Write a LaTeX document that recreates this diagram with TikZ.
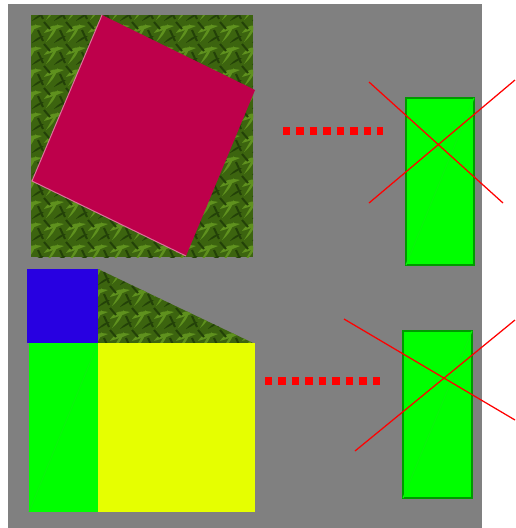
\documentclass[tikz,border=0pt]{standalone}
\usepackage{tikz}
\usetikzlibrary{calc}
\definecolor{bgGray}{RGB}{128,128,128}
\definecolor{squarePink}{RGB}{190,0,75}
\definecolor{squareBlue}{RGB}{40,0,225}
\definecolor{rectGreen}{RGB}{0,255,0}
\definecolor{rectYellow}{RGB}{230,255,0}
\definecolor{leafDark}{RGB}{60,100,15}
\definecolor{leafMid}{RGB}{35,65,8}
\definecolor{leafLight}{RGB}{95,145,30}
\tikzset{
  leafbase/.style={fill=leafDark},
  leafblade/.style={fill=leafLight},
  leafvein/.style={draw=leafMid, line width=0.04cm},
  greenbox/.style={fill=rectGreen, draw=green!60!black, line width=0.03cm},
  reddots/.style={draw=red, line width=0.15cm, dash pattern=on 0.15cm off 0.12cm},
  crossline/.style={draw=red, line width=0.025cm},
  faintdiag/.style={draw=green!92!gray, line width=0.02cm}
}
% tiled leaf texture over the current clip
\newcommand{\leaftiles}[4]{%
  \foreach \tx in {#1,...,#2}{
    \foreach \ty in {#3,...,#4}{
      \begin{scope}[shift={(\tx*22,\ty*22)}]
        \fill[leafblade] (0,11) .. controls (5,3) and (12,2) .. (20,4)
          .. controls (13,7) and (7,9) .. cycle;
        \fill[leafblade] (2,20) .. controls (6,14) and (8,8) .. (14,2)
          .. controls (12,10) and (8,15) .. cycle;
        \fill[leafMid] (10,21) .. controls (14,16) and (18,14) .. (22,14)
          .. controls (18,17) and (14,19) .. cycle;
        \draw[leafvein] (0,0) -- (6,7);
        \draw[leafvein] (16,8) -- (21,19);
      \end{scope}
    }
  }%
}
\begin{document}
\begin{tikzpicture}[x=0.02cm, y=-0.02cm]
\useasboundingbox (0,0) rectangle (515,528);
% background
\fill[bgGray] (8,4) rectangle (482,528);

% top figure: textured square with tilted square
\begin{scope}
  \clip (31,15) rectangle (253,257);
  \fill[leafbase] (31,15) rectangle (253,257);
  \leaftiles{1}{11}{0}{11}
\end{scope}
\coordinate (pt) at (102,15);
\coordinate (pr) at (255,90);
\coordinate (pb) at (186,256);
\coordinate (pl) at (32,181);
\fill[squarePink] (pt) -- (pr) -- (pb) -- (pl) -- cycle;
\draw[squarePink!55!white, line width=0.02cm] (pt) -- (pl) -- (pb);

% bottom figure
\begin{scope}
  \clip (98,269) -- (98,343) -- (253,343) -- cycle;
  \fill[leafbase] (98,262) rectangle (255,343);
  \leaftiles{4}{11}{12}{15}
\end{scope}
\fill[squareBlue] (27,269) rectangle (98,343);
\fill[rectGreen] (29,343) rectangle (98,512);
\draw[faintdiag] (29,512) -- (98,343);
\fill[rectYellow] (98,343) rectangle (255,512);

% dotted links
\coordinate (topA) at (283,131);
\coordinate (topB) at (383,131);
\draw[reddots] (topA) -- (topB);
\coordinate (botA) at (265,381);
\coordinate (botB) at (381,381);
\draw[reddots] (botA) -- (botB);

% crossed-out rectangles
\filldraw[greenbox] (406,98) rectangle (474,265);
\draw[faintdiag] (406,265) -- (474,98);
\draw[crossline] (369,82) -- (503,203);
\draw[crossline] (369,203) -- (515,80);

\filldraw[greenbox] (403,331) rectangle (472,498);
\draw[faintdiag] (403,498) -- (472,331);
\draw[crossline] (344,319) -- (515,420);
\draw[crossline] (355,451) -- (515,320);
\end{tikzpicture}
\end{document}
